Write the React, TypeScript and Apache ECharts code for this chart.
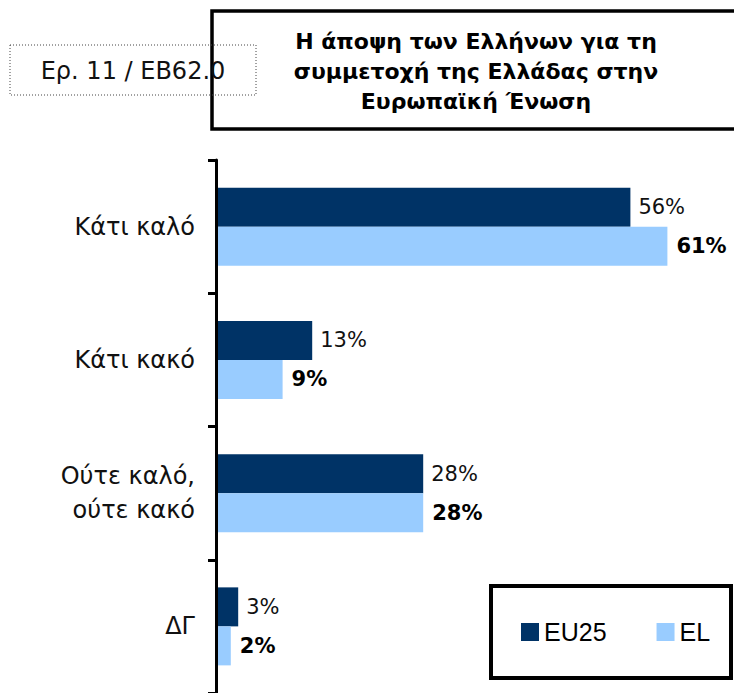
import React, { useEffect, useRef } from "react";
import * as echarts from "echarts";

const categories = ["Κάτι καλό", "Κάτι κακό", "Ούτε καλό,\nούτε κακό", "ΔΓ"];
const seriesNames = ["EU25", "EL"];
const eu25Values = [56, 13, 28, 3];
const elValues = [61, 9, 28, 2];
const titleLines = [
  "Η άποψη των Ελλήνων για τη",
  "συμμετοχή της Ελλάδας στην",
  "Ευρωπαϊκή Ένωση",
];
const refLabel = "Ερ. 11 / ΕΒ62.0";

const FONT = "'DejaVu Sans', 'Noto Sans', sans-serif";

export default function App() {
  const ref = useRef<HTMLDivElement>(null);
  useEffect(() => {
    if (!ref.current) return;
    const chart = echarts.init(ref.current, null, { renderer: "svg" });
    chart.setOption({
      animation: false,
      backgroundColor: "#ffffff",
      grid: { left: 216, top: 160, width: 518, height: 540, containLabel: false },
      xAxis: { type: "value", min: 0, max: 70, show: false },
      yAxis: {
        type: "category",
        data: categories,
        inverse: true,
        z: 10,
        axisLine: { show: true, lineStyle: { color: "#000", width: 3 } },
        axisTick: { show: true, length: 8, lineStyle: { color: "#000", width: 3 } },
        axisLabel: {
          color: "#111",
          fontSize: 24,
          fontFamily: FONT,
          margin: 21,
          lineHeight: 34,
        },
        splitLine: { show: false },
      },
      legend: {
        left: 516,
        top: 614,
        itemWidth: 18,
        itemHeight: 18,
        itemGap: 50,
        icon: "rect",
        data: seriesNames,
        textStyle: {
          fontSize: 25,
          lineHeight: 26,
          color: "#000",
          fontFamily: "'Liberation Sans', Arial, sans-serif",
        },
      },
      series: [
        {
          name: seriesNames[0],
          type: "bar",
          data: eu25Values,
          barWidth: 39,
          barGap: "0%",
          itemStyle: { color: "#003366" },
          label: {
            show: true,
            position: "right",
            distance: 8,
            formatter: "{c}%",
            fontSize: 21,
            color: "#111",
            fontFamily: FONT,
          },
        },
        {
          name: seriesNames[1],
          type: "bar",
          data: elValues,
          barWidth: 39,
          barGap: "0%",
          itemStyle: { color: "#99ccff" },
          label: {
            show: true,
            position: "right",
            distance: 9,
            formatter: "{c}%",
            fontSize: 21,
            fontWeight: "bold",
            color: "#000",
            fontFamily: FONT,
          },
        },
      ],
      graphic: [
        {
          type: "rect",
          shape: { x: 212, y: 11, width: 540, height: 118 },
          style: { fill: "none", stroke: "#000", lineWidth: 3.5 },
        },
        {
          type: "text",
          x: 476,
          y: 26,
          style: {
            text: titleLines.join("\n"),
            textAlign: "center",
            textVerticalAlign: "top",
            fontSize: 22,
            fontWeight: "bold",
            lineHeight: 30,
            fill: "#000",
            fontFamily: FONT,
          },
        },
        {
          type: "rect",
          shape: { x: 10, y: 45, width: 246, height: 50 },
          style: { fill: "none", stroke: "#444", lineWidth: 1, lineDash: [1, 2] },
        },
        {
          type: "text",
          x: 133,
          y: 71,
          style: {
            text: refLabel,
            textAlign: "center",
            textVerticalAlign: "middle",
            fontSize: 24,
            fill: "#111",
            fontFamily: FONT,
          },
        },
        {
          type: "rect",
          shape: { x: 491, y: 586, width: 240, height: 92 },
          style: { fill: "none", stroke: "#000", lineWidth: 4 },
        },
      ],
    });
    return () => chart.dispose();
  }, []);
  return (
    <div
      ref={ref}
      style={{ position: "fixed", left: 0, top: 0, width: 734, height: 693, background: "#fff" }}
    />
  );
}
